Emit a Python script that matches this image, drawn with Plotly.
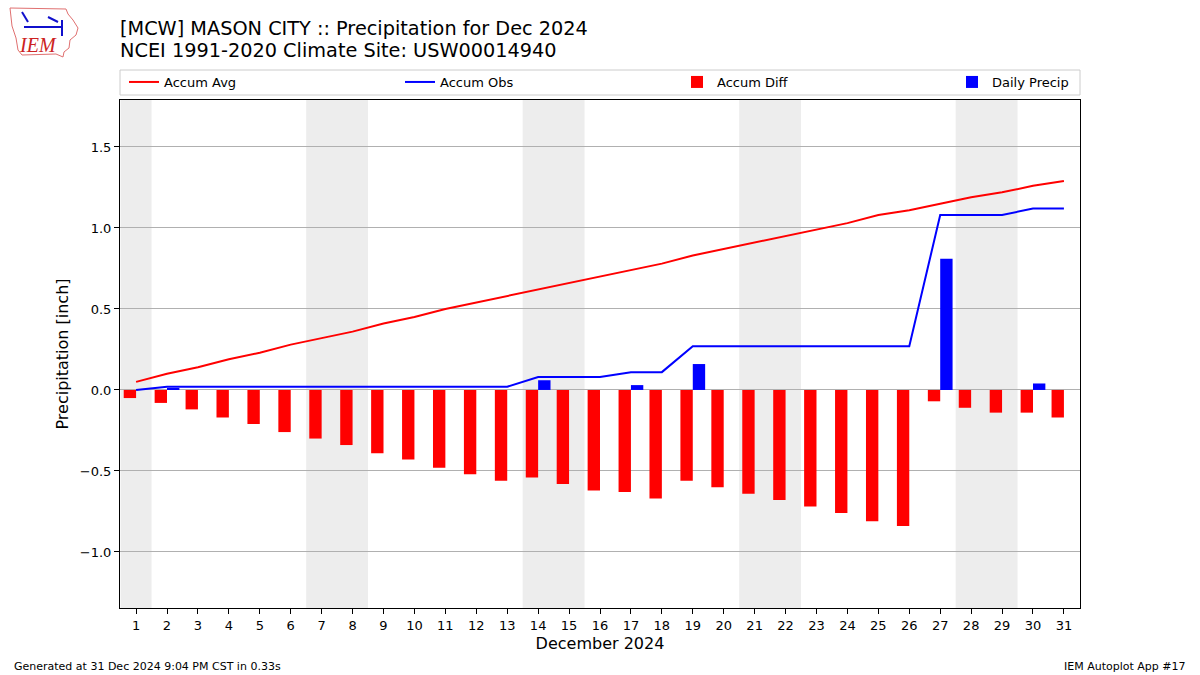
import plotly.graph_objects as go

days = list(range(1, 32))
accum_avg = [0.05, 0.10, 0.14, 0.19, 0.23, 0.28, 0.32, 0.36, 0.41, 0.45, 0.50, 0.54, 0.58, 0.62, 0.66,
             0.70, 0.74, 0.78, 0.83, 0.87, 0.91, 0.95, 0.99, 1.03, 1.08, 1.11, 1.15, 1.19, 1.22, 1.26, 1.29]
accum_obs = [0.00, 0.02, 0.02, 0.02, 0.02, 0.02, 0.02, 0.02, 0.02, 0.02, 0.02, 0.02, 0.02, 0.08, 0.08,
             0.08, 0.11, 0.11, 0.27, 0.27, 0.27, 0.27, 0.27, 0.27, 0.27, 0.27, 1.08, 1.08, 1.08, 1.12, 1.12]
accum_diff = [-0.05, -0.08, -0.12, -0.17, -0.21, -0.26, -0.30, -0.34, -0.39, -0.43, -0.48, -0.52, -0.56, -0.54, -0.58,
              -0.62, -0.63, -0.67, -0.56, -0.60, -0.64, -0.68, -0.72, -0.76, -0.81, -0.84, -0.07, -0.11, -0.14, -0.14, -0.17]
daily_precip = [0.0, 0.01, 0, 0, 0, 0, 0, 0, 0, 0, 0, 0, 0, 0.06, 0,
                0, 0.03, 0, 0.16, 0, 0, 0, 0, 0, 0, 0, 0.81, 0, 0, 0.04, 0]
weekend_spans = [(0.5, 1.5), (6.5, 8.5), (13.5, 15.5), (20.5, 22.5), (27.5, 29.5)]
title_lines = ["[MCW] MASON CITY :: Precipitation for Dec 2024", "NCEI 1991-2020 Climate Site: USW00014940"]

FONT = "DejaVu Sans"
PW, PH = 960, 508
fig = go.Figure()

fig.add_trace(go.Scatter(x=days, y=accum_avg, mode="lines", name="Accum Avg",
                         line=dict(color="red", width=2), legend="legend"))
fig.add_trace(go.Scatter(x=days, y=accum_obs, mode="lines", name="Accum Obs",
                         line=dict(color="blue", width=2), legend="legend2"))
fig.add_trace(go.Bar(x=days, y=accum_diff, name="Accum Diff", marker=dict(color="red", line=dict(width=0)),
                     width=0.4, offset=-0.4, legend="legend3"))
fig.add_trace(go.Bar(x=days, y=daily_precip, name="Daily Precip", marker=dict(color="blue", line=dict(width=0)),
                     width=0.4, offset=0.0, legend="legend4"))

for x0, x1 in weekend_spans:
    fig.add_shape(type="rect", xref="x", yref="paper", x0=x0, x1=x1, y0=0, y1=1,
                  fillcolor="#ededed", line=dict(width=0), layer="below")

# legend frame
fig.add_shape(type="rect", xref="paper", yref="paper", x0=0, x1=1, y0=1 + 5 / PH, y1=1 + 30 / PH,
              fillcolor="white", line=dict(color="#cccccc", width=1), layer="above")


def px2paper(px, py):
    return (px - 120) / PW, (608 - py) / PH


# logo outline (decorative)
outline_px = [(10, 8), (66, 9), (68, 14), (73, 20), (78, 28), (76, 35), (70, 40), (69, 48),
              (64, 52), (63, 57), (56, 54), (22, 55), (18, 50), (16, 38), (12, 26), (10, 8)]
pts = [px2paper(a, b) for a, b in outline_px]
path = "M " + " L ".join(f"{x:.5f},{y:.5f}" for x, y in pts) + " Z"
fig.add_shape(type="path", xref="paper", yref="paper", path=path,
              line=dict(color="#e07070", width=1), fillcolor="rgba(0,0,0,0)")
for (a, b), (c, d) in [((24, 27), (62, 27)), ((62, 20), (62, 36)), ((48, 17), (58, 22)), ((22, 12), (28, 22))]:
    x0, y0 = px2paper(a, b)
    x1, y1 = px2paper(c, d)
    fig.add_shape(type="line", xref="paper", yref="paper", x0=x0, y0=y0, x1=x1, y1=y1,
                  line=dict(color="#1010cc", width=2))


def leg(px_left):
    return dict(orientation="h", x=(px_left - 120) / PW, xanchor="left", y=1 + 18 / PH, yanchor="middle",
                borderwidth=0, bgcolor="rgba(0,0,0,0)", font=dict(family=FONT, size=13))


fig.update_layout(
    width=1200, height=675,
    margin=dict(l=120, r=120, t=100, b=67),
    paper_bgcolor="white", plot_bgcolor="white",
    barmode="overlay",
    font=dict(family=FONT, size=13, color="black"),
    showlegend=True,
    legend=leg(124), legend2=leg(400), legend3=leg(677), legend4=leg(952),
)

fig.add_annotation(text=title_lines[0], xref="paper", yref="paper", x=-2 / PW, y=1 + (100 - 28.5) / PH,
                   xanchor="left", yanchor="middle", showarrow=False, font=dict(family=FONT, size=19.3))
fig.add_annotation(text=title_lines[1], xref="paper", yref="paper", x=-2 / PW, y=1 + (100 - 50.5) / PH,
                   xanchor="left", yanchor="middle", showarrow=False, font=dict(family=FONT, size=19.3))

fig.update_xaxes(range=[0.48, 31.52], tickmode="array", tickvals=days, ticktext=[str(d) for d in days],
                 showgrid=False, zeroline=False, ticks="outside", ticklen=5, tickcolor="black",
                 showline=True, linecolor="black", linewidth=1, mirror=True,
                 title=dict(text="December 2024", font=dict(family=FONT, size=16), standoff=6),
                 tickfont=dict(family=FONT, size=13))
fig.update_yaxes(range=[-1.346, 1.79], tickmode="array", tickvals=[-1.0, -0.5, 0.0, 0.5, 1.0, 1.5],
                 tickformat=".1f",
                 showgrid=True, gridcolor="#b0b0b0", gridwidth=1,
                 zeroline=True, zerolinecolor="#b0b0b0", zerolinewidth=1,
                 ticks="outside", ticklen=5, tickcolor="black",
                 showline=True, linecolor="black", linewidth=1, mirror=True,
                 title=dict(text="Precipitation [inch]", font=dict(family=FONT, size=16), standoff=7),
                 tickfont=dict(family=FONT, size=13))

fig.add_annotation(text="Generated at 31 Dec 2024 9:04 PM CST in 0.33s", xref="paper", yref="paper",
                   x=-108 / PW, y=-58 / PH, xanchor="left", yanchor="middle", showarrow=False,
                   font=dict(family=FONT, size=11))
fig.add_annotation(text="IEM Autoplot App #17", xref="paper", yref="paper",
                   x=1 + 108 / PW, y=-58 / PH, xanchor="right", yanchor="middle", showarrow=False,
                   font=dict(family=FONT, size=11))
fig.add_annotation(text="<i>IEM</i>", xref="paper", yref="paper",
                   x=-82 / PW, y=1 + 55 / PH, xanchor="center", yanchor="middle", showarrow=False,
                   font=dict(family="Liberation Serif", size=20, color="#cc2222"))

fig.write_html("out.html", config={"displayModeBar": False},
               post_script="document.body.style.margin='0';document.body.style.overflow='hidden';")
